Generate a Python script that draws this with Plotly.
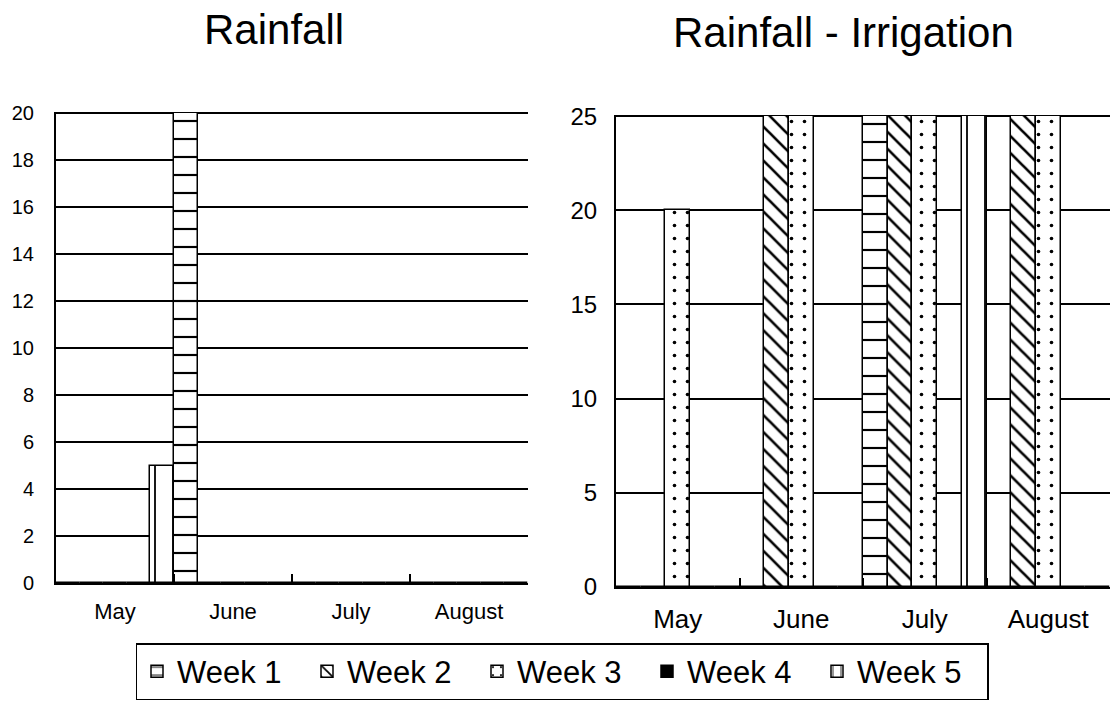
import plotly.graph_objects as go

months = ["May", "June", "July", "August"]
weeks = ["Week 1", "Week 2", "Week 3", "Week 4", "Week 5"]

# Rainfall (left)
rain_w1 = [0, 20, 0, 0]
rain_w2 = [0, 0, 0, 0]
rain_w3 = [0, 0, 0, 0]
rain_w4 = [0, 0, 0, 0]
rain_w5 = [5, 0, 0, 0]

# Rainfall - Irrigation (right)
irr_w1 = [0, 0, 25, 0]
irr_w2 = [0, 25, 25, 25]
irr_w3 = [20, 25, 25, 25]
irr_w4 = [0, 0, 0, 0]
irr_w5 = [0, 0, 25, 0]

left_ticks = list(range(0, 21, 2))
right_ticks = list(range(0, 26, 5))

FONT = "Liberation Sans, Arial, sans-serif"

styles = [
    dict(color="white", pattern=dict(shape="-", fgcolor="black", bgcolor="white", size=18, solidity=0.12)),
    dict(color="white", pattern=dict(shape="\\", fgcolor="black", bgcolor="white", size=12, solidity=0.22)),
    dict(color="white", pattern=dict(shape=".", fgcolor="black", bgcolor="white", size=13, solidity=0.06)),
    dict(color="black", pattern=dict(shape="")),
    dict(color="white", pattern=dict(shape="|", fgcolor="black", bgcolor="white", size=18, solidity=0.1)),
]

fig = go.Figure()
left_series = [rain_w1, rain_w2, rain_w3, rain_w4, rain_w5]
right_series = [irr_w1, irr_w2, irr_w3, irr_w4, irr_w5]

for name, vals, st in zip(weeks, left_series, styles):
    fig.add_trace(go.Bar(
        x=months, y=vals, name=name, legendgroup=name, showlegend=True,
        marker=dict(color=st["color"], pattern=st["pattern"], line=dict(color="black", width=1.5)),
        xaxis="x", yaxis="y",
    ))
for name, vals, st in zip(weeks, right_series, styles):
    fig.add_trace(go.Bar(
        x=months, y=vals, name=name, legendgroup=name, showlegend=False,
        marker=dict(color=st["color"], pattern=st["pattern"], line=dict(color="black", width=1.5)),
        xaxis="x2", yaxis="y2",
    ))

W, H = 1114, 702
def px(a, b):
    return [a / W, b / W]
def py(top, bottom):
    return [1 - bottom / H, 1 - top / H]

common_x = dict(
    type="category", showline=True, linecolor="black", linewidth=2,
    ticks="inside", tickson="boundaries", ticklen=9, tickwidth=2, tickcolor="black",
    showgrid=False, automargin=False, fixedrange=True,
)
common_y = dict(
    showline=True, linecolor="black", linewidth=2, ticks="",
    showgrid=True, gridcolor="black", gridwidth=2, zeroline=False,
    automargin=False, fixedrange=True,
)

fig.update_layout(
    width=W, height=H,
    template="none",
    paper_bgcolor="white", plot_bgcolor="white",
    margin=dict(l=0, r=0, t=0, b=0),
    barmode="group", bargap=0, bargroupgap=0,
    font=dict(family=FONT, color="black"),
    xaxis=dict(common_x, domain=px(56, 528), anchor="y",
               tickfont=dict(size=22), ticklabelstandoff=8),
    yaxis=dict(common_y, domain=py(112, 583), anchor="x", range=[0, 20.05],
               tickvals=left_ticks, tickfont=dict(size=20), ticklabelstandoff=16),
    xaxis2=dict(common_x, domain=px(616, 1110), anchor="y2",
                tickfont=dict(size=26), ticklabelstandoff=8),
    yaxis2=dict(common_y, domain=py(115, 587), anchor="x2", range=[0, 25.06],
                tickvals=right_ticks, tickfont=dict(size=24), ticklabelstandoff=12),
    legend=dict(
        orientation="h", x=562 / W, xanchor="center", y=1 - 643 / H, yanchor="top",
        bordercolor="black", borderwidth=1.5, bgcolor="white",
        font=dict(size=31, family=FONT), traceorder="normal",
        entrywidth=125, entrywidthmode="pixels",
    ),
    annotations=[
        dict(text="Rainfall", x=274 / W, y=1 - 30 / H, xref="paper", yref="paper",
             showarrow=False, font=dict(size=42, family=FONT), xanchor="center", yanchor="middle"),
        dict(text="Rainfall - Irrigation", x=843 / W, y=1 - 32 / H, xref="paper", yref="paper",
             showarrow=False, font=dict(size=42, family=FONT), xanchor="center", yanchor="middle"),
    ],
)

fig.write_html("out.html", config={"displayModeBar": False},
               post_script="document.body.style.margin='0';document.body.style.overflow='hidden';")
